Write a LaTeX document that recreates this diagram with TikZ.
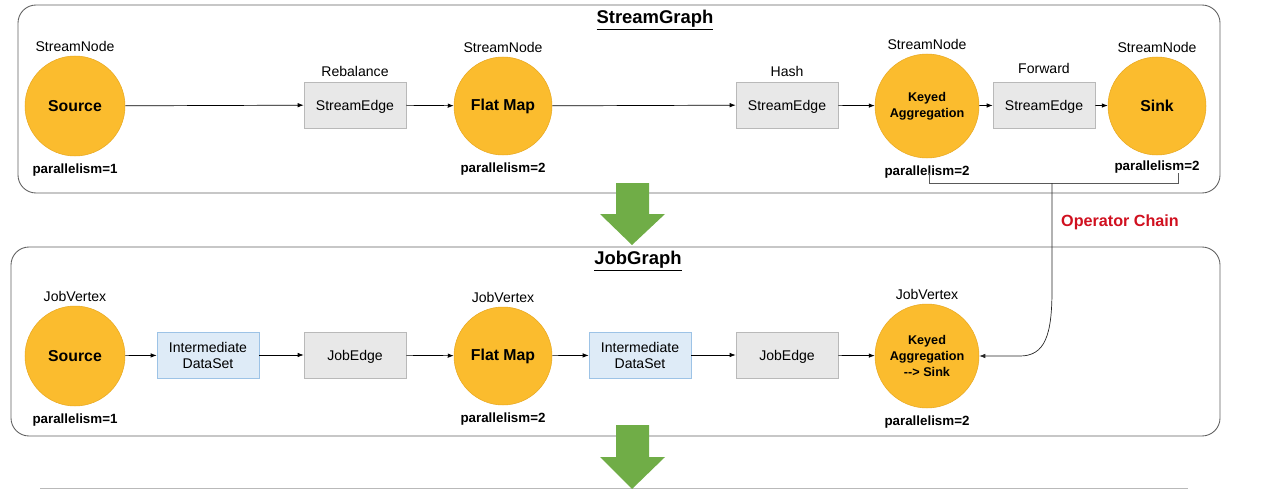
\documentclass[tikz,border=0pt]{standalone}
\usepackage{fontspec}
\setmainfont{Liberation Sans}
\usetikzlibrary{positioning,arrows.meta}
\definecolor{opyellow}{HTML}{FBBC2E}
\definecolor{opline}{HTML}{E8A820}
\definecolor{dsblue}{HTML}{DEEBF7}
\definecolor{dsline}{HTML}{9DC3E6}
\definecolor{flowgreen}{HTML}{70AD47}
\definecolor{chainred}{HTML}{D0101F}
\begin{document}
\begin{tikzpicture}[x=0.02cm, y=-0.02cm, >={Latex[length=1.2mm,width=0.9mm]},
    op/.style={circle, fill=opyellow, draw=opline, line width=0.3pt, minimum size=2cm, inner sep=0pt, align=center, font=\bfseries\fontsize{9}{10}\selectfont},
    opsmall/.style={op, minimum size=2.08cm, font=\bfseries\fontsize{7.2}{9}\selectfont},
    edgebox/.style={rectangle, fill=gray!18, draw=gray!55, line width=0.4pt, minimum width=2.04cm, minimum height=0.92cm, text depth=0pt, font=\fontsize{8}{9}\selectfont},
    dsbox/.style={edgebox, fill=dsblue, draw=dsline, align=center},
    tag/.style={font=\fontsize{8}{9}\selectfont, inner sep=1pt},
    par/.style={font=\bfseries\fontsize{7.6}{9}\selectfont, inner sep=1pt},
    graphbox/.style={draw=gray!75!black, rounded corners=0.36cm, line width=0.5pt},
    title/.style={font=\bfseries\fontsize{10.5}{12}\selectfont}]
\useasboundingbox (0,0) rectangle (1270,490);

% StreamGraph
\draw[graphbox] (18,5) rectangle (1220,193);
\node[title] (sgTitle) at (655,20) {\underline{StreamGraph}};

\node[op] (src) at (75,106) {Source};
\node[edgebox] (se1) at (355,105) {StreamEdge};
\node[op, minimum size=1.96cm] (fm) at (503,106) {Flat Map};
\node[edgebox] (se2) at (787,105) {StreamEdge};
\node[opsmall] (kagg) at (927,106) {Keyed\\Aggregation};
\node[edgebox] (se3) at (1044,105) {StreamEdge};
\node[op, minimum size=1.96cm] (sink) at (1157,106) {Sink};

\node[tag, above=0.5mm of src] (srcTag) {StreamNode};
\node[tag, above=0.5mm of fm] (fmTag) {StreamNode};
\node[tag, above=0.5mm of kagg] (kaggTag) {StreamNode};
\node[tag, above=0.5mm of sink] (sinkTag) {StreamNode};
\node[tag, above=0.6mm of se1] (se1Tag) {Rebalance};
\node[tag, above=0.6mm of se2] (se2Tag) {Hash};
\node[tag, above=1.2mm of se3] (se3Tag) {Forward};

\node[par, below=1mm of src] (srcPar) {parallelism=1};
\node[par, below=1mm of fm] (fmPar) {parallelism=2};
\node[par, below=1mm of kagg] (kaggPar) {parallelism=2};
\node[par, below=0.6mm of sink] (sinkPar) {parallelism=2};

\draw[->] (src) -- (se1);
\draw[->] (se1) -- (fm);
\draw[->] (fm) -- (se2);
\draw[->] (se2) -- (kagg);
\draw[->] (kagg) -- (se3);
\draw[->] (se3) -- (sink);

% JobGraph
\draw[graphbox] (11,247) rectangle (1220,436);
\node[title] (jgTitle) at (638,261) {\underline{JobGraph}};

\node[op] (jsrc) at (75,356) {Source};
\node[dsbox] (ds1) at (208,355) {Intermediate\\DataSet};
\node[edgebox] (je1) at (355,355) {JobEdge};
\node[op, minimum size=1.96cm] (jfm) at (503,356) {Flat Map};
\node[dsbox] (ds2) at (640,355) {Intermediate\\DataSet};
\node[edgebox] (je2) at (787,355) {JobEdge};
\node[opsmall] (jagg) at (927,356) {Keyed\\Aggregation\\-{}-> Sink};

\node[tag, above=0.5mm of jsrc] (jsrcTag) {JobVertex};
\node[tag, above=0.5mm of jfm] (jfmTag) {JobVertex};
\node[tag, above=0.5mm of jagg] (jaggTag) {JobVertex};
\node[par, below=1mm of jsrc] (jsrcPar) {parallelism=1};
\node[par, below=1mm of jfm] (jfmPar) {parallelism=2};
\node[par, below=1mm of jagg] (jaggPar) {parallelism=2};

\draw[->] (jsrc) -- (ds1);
\draw[->] (ds1) -- (je1);
\draw[->] (je1) -- (jfm);
\draw[->] (jfm) -- (ds2);
\draw[->] (ds2) -- (je2);
\draw[->] (je2) -- (jagg);

% operator chain
\coordinate (brL) at (929,173);
\coordinate (brR) at (1178,173);
\coordinate (brM) at (1052,183);
\coordinate (bend) at (1052,290);
\draw[gray!70!black, line width=0.4pt] (brL) -- ++(0,10) -| (brR);
\draw[->, gray!30!black, line width=0.4pt] (brM) -- (bend) .. controls (1052,335) and (1045,356) .. (1020,356) -- (jagg.east);
\node[font=\bfseries\fontsize{9.2}{11}\selectfont, text=chainred] (chain) at (1120,222) {Operator Chain};

% next graph (cut off)
\draw[gray!55, line width=0.5pt] (40,488) -- (1188,488);

% flow arrows
\fill[flowgreen] (616,183) -- (649,183) -- (649,214) -- (665,214) -- (632,245) -- (600,214) -- (616,214) -- cycle;
\fill[flowgreen] (616,425) -- (649,425) -- (649,457) -- (665,457) -- (632,489) -- (600,457) -- (616,457) -- cycle;
\end{tikzpicture}
\end{document}
